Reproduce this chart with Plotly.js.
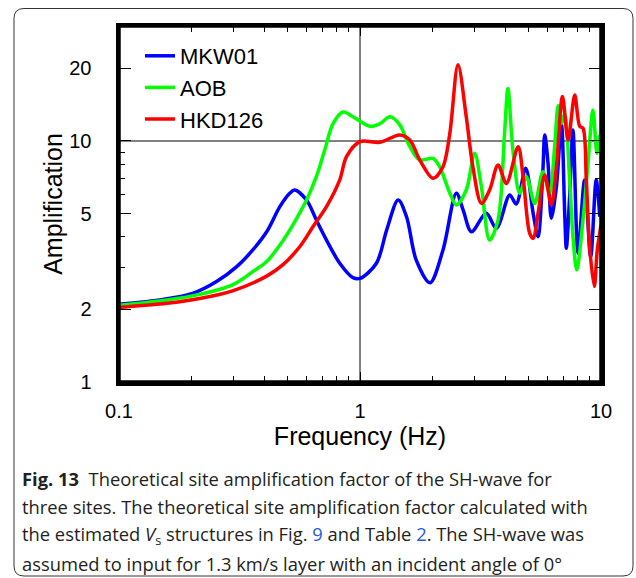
<!DOCTYPE html>
<html>
<head>
<meta charset="utf-8">
<script src="https://cdn.plot.ly/plotly-3.0.1.min.js"></script>
<style>
html,body{margin:0;padding:0;background:#fff;}
#chart{width:636px;height:578px;}
</style>
</head>
<body>
<div id="chart"></div>
<script>
// ---- data ----
const seriesNames = ["MKW01", "AOB", "HKD126"];
const seriesColors = ["#0000ff", "#00ff00", "#ff0000"];

const freqMKW01 = [0.1,0.152,0.202,0.254,0.308,0.359,0.410,0.465,0.511,0.536,0.600,0.659,0.726,0.824,0.935,1.0,1.17,1.29,1.44,1.56,1.71,1.95,2.21,2.51,2.68,2.90,3.34,3.68,4.18,4.45,4.87,5.23,5.48,5.74,5.84,6.03,6.22,6.53,6.85,7.07,7.18,7.41,7.65,8.03,8.55,9.06,9.55,9.88];
const ampMKW01 = [2.10,2.20,2.33,2.61,3.01,3.53,4.20,5.34,6.07,6.26,5.69,4.70,3.88,3.11,2.71,2.69,3.11,4.27,5.69,4.85,3.21,2.58,3.53,6.07,5.17,4.20,5.01,4.34,5.97,5.48,7.70,5.01,4.01,7.58,10.6,8.08,4.78,6.46,11.8,5.01,3.59,5.87,11.1,3.42,6.89,3.31,6.89,4.85];

const freqAOB = [0.1,0.158,0.216,0.296,0.359,0.410,0.465,0.526,0.600,0.659,0.714,0.773,0.850,0.935,1.10,1.21,1.33,1.46,1.61,1.77,2.01,2.14,2.36,2.51,2.76,2.99,3.19,3.45,3.74,3.98,4.11,4.31,4.60,4.90,5.31,5.74,6.12,6.42,6.64,6.85,7.07,7.41,7.65,7.93,8.42,8.83,9.26,9.62,9.88];
const ampAOB = [2.08,2.19,2.31,2.53,2.87,3.16,3.70,4.48,5.69,7.11,9.18,11.8,13.2,12.6,11.5,11.8,12.6,11.7,9.47,8.34,8.47,7.82,6.07,5.43,6.26,8.89,6.46,3.88,4.70,10.8,16.5,9.18,6.07,7.11,5.51,7.46,6.07,9.47,14.0,11.8,13.0,6.89,4.01,2.92,4.70,8.08,13.4,8.89,10.6];

const freqHKD126 = [0.1,0.158,0.216,0.296,0.410,0.478,0.562,0.638,0.726,0.824,0.879,1.0,1.21,1.46,1.61,1.77,2.01,2.21,2.36,2.55,2.76,2.94,3.19,3.45,3.74,4.05,4.53,4.75,5.06,5.23,5.48,5.84,6.22,6.53,6.92,7.30,7.78,8.16,8.42,8.69,8.97,9.38,9.65,10.0];
const ampHKD126 = [2.04,2.12,2.22,2.39,2.75,3.06,3.64,4.41,5.34,6.89,8.61,9.94,9.88,10.6,10.1,8.34,7.00,7.82,10.8,20.7,12.6,7.82,5.51,6.26,7.95,6.67,9.47,7.11,4.14,3.95,5.01,7.23,5.43,7.82,15.3,10.1,15.5,11.5,11.3,6.89,3.64,2.49,3.53,4.48];

const xTickVals = [0.1, 1, 10];
const xTickText = ["0.1", "1", "10"];
const xMinorVals = [0.2,0.3,0.4,0.5,0.6,0.7,0.8,0.9,2,3,4,5,6,7,8,9];
const yTickVals = [1, 2, 5, 10, 20];
const yTickText = ["1", "2", "5", "10", "20"];
const yMinorVals = [3,4,6,7,8,9,30];

const xTitle = "Frequency (Hz)";
const yTitle = "Amplification";
const captionLines = [
  "<b>Fig. 13</b>  Theoretical site amplification factor of the SH-wave for",
  "three sites. The theoretical site amplification factor calculated with",
  "the estimated <i>V</i><sub>s</sub> structures in Fig. <span style=\"color:#2a5bd7\">9</span> and Table <span style=\"color:#2a5bd7\">2</span>. The SH-wave was",
  "assumed to input for 1.3 km/s layer with an incident angle of 0°"
];

// ---- layout helpers (pixel -> paper) ----
const W = 636, H = 578;
const M = {l: 119, r: 35, t: 26, b: 196};
const PW = W - M.l - M.r, PH = H - M.t - M.b;
const px = x => (x - M.l) / PW;
const py = y => (H - M.b - y) / PH;

// fit caption font size so that the full second line spans the reference width
const capFamily = "'Open Sans'";
const ctx = document.createElement("canvas").getContext("2d");
ctx.font = "100px " + capFamily;
const w100 = ctx.measureText(captionLines[1]).width;
let capSize = 100 * 566 / w100;
if (!isFinite(capSize) || capSize < 12 || capSize > 22) capSize = 17.5;

const traces = [
  {x: freqMKW01, y: ampMKW01},
  {x: freqAOB, y: ampAOB},
  {x: freqHKD126, y: ampHKD126}
].map((d, i) => ({
  x: d.x, y: d.y, name: seriesNames[i], type: "scatter", mode: "lines",
  line: {color: seriesColors[i], width: 3.5, shape: "spline", smoothing: 0.9},
  cliponaxis: true
}));

// rounded outer frame
const L0 = 14, R0 = 633, T0 = 8.5, B0 = 576, rad = 10;
const framePath =
  `M ${px(L0)},${py(T0+rad)} Q ${px(L0)},${py(T0)} ${px(L0+rad)},${py(T0)} ` +
  `L ${px(R0-rad)},${py(T0)} Q ${px(R0)},${py(T0)} ${px(R0)},${py(T0+rad)} ` +
  `L ${px(R0)},${py(B0-rad)} Q ${px(R0)},${py(B0)} ${px(R0-rad)},${py(B0)} ` +
  `L ${px(L0+rad)},${py(B0)} Q ${px(L0)},${py(B0)} ${px(L0)},${py(B0-rad)} Z`;

const captionY = [478, 506.5, 535, 563.5];
const annotations = captionLines.map((t, i) => ({
  text: t, xref: "paper", yref: "paper", x: px(20), y: py(captionY[i]),
  xanchor: "left", yanchor: "middle", showarrow: false, align: "left",
  font: {family: "'Open Sans', sans-serif", size: capSize, color: "#231f20"}
}));

const sansFam = "'Liberation Sans', Arial, sans-serif";
const axisFont = {family: sansFam, size: 20, color: "#000"};

const layout = {
  width: W, height: H,
  margin: M,
  paper_bgcolor: "#fff", plot_bgcolor: "#fff",
  showlegend: true,
  legend: {
    x: px(140), y: py(35), xanchor: "left", yanchor: "top",
    bgcolor: "rgba(0,0,0,0)", borderwidth: 0,
    font: {family: sansFam, size: 22, color: "#000"},
    tracegroupgap: 0
  },
  xaxis: {
    type: "log", range: [-1, 1],
    tickmode: "array", tickvals: xTickVals, ticktext: xTickText,
    ticks: "inside", ticklen: 10, tickwidth: 1, tickcolor: "#000",
    minor: {tickmode: "array", tickvals: xMinorVals, ticks: "inside", ticklen: 6, tickwidth: 1, tickcolor: "#000", showgrid: false},
    showgrid: false, zeroline: false,
    showline: true, linewidth: 3.5, linecolor: "#000", mirror: "allticks",
    tickfont: axisFont, ticklabelstandoff: 8,
    title: {text: xTitle, font: {family: sansFam, size: 25, color: "#000"}, standoff: 8}
  },
  yaxis: {
    type: "log", range: [0, Math.log10(30)],
    tickmode: "array", tickvals: yTickVals, ticktext: yTickText,
    ticks: "inside", ticklen: 12, tickwidth: 1, tickcolor: "#000",
    minor: {tickmode: "array", tickvals: yMinorVals, ticks: "inside", ticklen: 6, tickwidth: 1, tickcolor: "#000", showgrid: false},
    showgrid: false, zeroline: false,
    showline: true, linewidth: 3.5, linecolor: "#000", mirror: "allticks",
    tickfont: axisFont, ticklabelstandoff: 20,
    title: {text: yTitle, font: {family: sansFam, size: 25, color: "#000"}, standoff: 0}
  },
  shapes: [
    {type: "line", xref: "paper", yref: "y", x0: 0, x1: 1, y0: 10, y1: 10,
     line: {color: "#808080", width: 2}, layer: "below"},
    {type: "line", xref: "x", yref: "paper", x0: 1, x1: 1, y0: 0, y1: 1,
     line: {color: "#000", width: 1}, layer: "below"},
    {type: "rect", xref: "paper", yref: "paper", x0: 0, x1: 1, y0: 0, y1: 1,
     line: {color: "#000", width: 3.5}, fillcolor: "rgba(0,0,0,0)", layer: "above"},
    {type: "path", xref: "paper", yref: "paper", path: framePath,
     line: {color: "#333", width: 1}, fillcolor: "rgba(0,0,0,0)", layer: "below"}
  ],
  annotations: annotations
};

Plotly.newPlot("chart", traces, layout, {displayModeBar: false, staticPlot: true});
</script>
</body>
</html>
